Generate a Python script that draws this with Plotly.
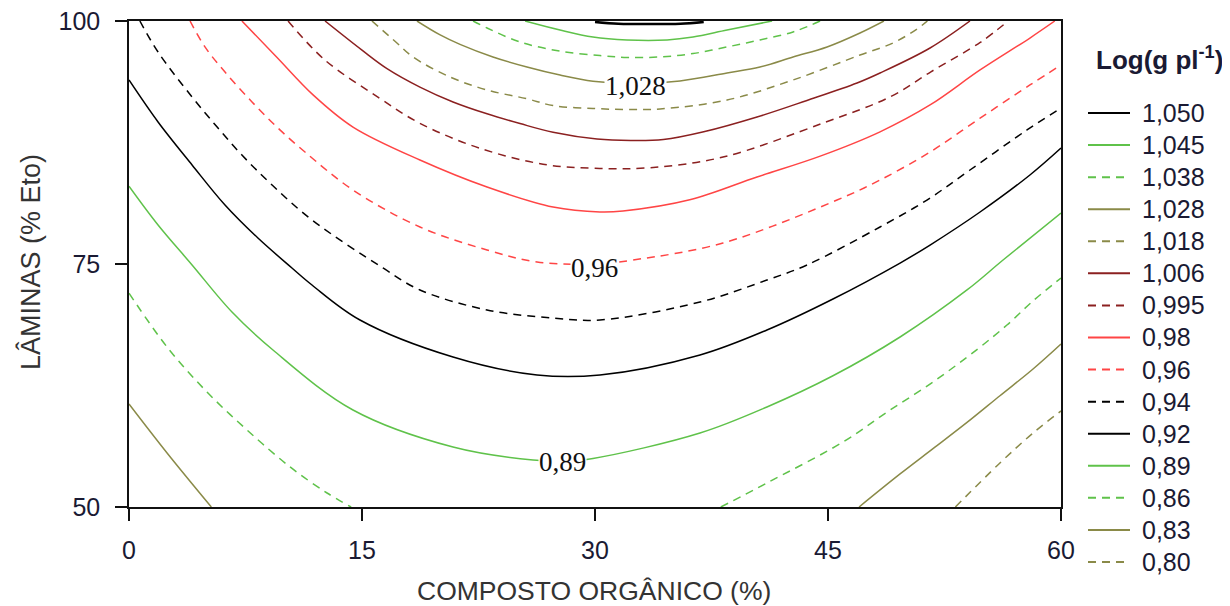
import plotly.graph_objects as go

# ---------------- data ----------------
level_labels = ["1,050", "1,045", "1,038", "1,028", "1,018", "1,006", "0,995",
                "0,98", "0,96", "0,94", "0,92", "0,89", "0,86", "0,83", "0,80"]

c1050_x = [30.0, 31.5, 33.5, 35.5, 37.0]
c1050_y = [99.9, 99.72, 99.68, 99.72, 99.9]

c1045_x = [25.5, 27.75, 29.87, 32.06, 34.64, 36.31, 38.5, 41.4]
c1045_y = [100, 99.07, 98.35, 98.05, 98.05, 98.35, 99.07, 100]

c1038_x = [22.15, 23.05, 25.17, 27.75, 30.32, 32.06, 34.19, 36.31, 38.5, 40.62, 42.75, 44.49]
c1038_y = [100, 99.28, 97.84, 96.9, 96.45, 96.25, 96.3, 96.65, 97.33, 98.05, 98.87, 100]

c1028_x = [18.54, 20.0, 21.31, 23.43, 25.62, 27.75, 29.87, 32.6, 35.47, 38.5, 40.62, 42.75, 44.94, 47.06, 48.6]
c1028_y = [100, 98.6, 97.6, 96.3, 95.27, 94.44, 93.8, 93.55, 93.83, 94.65, 95.27, 96.3, 97.33, 98.77, 100]

c1018_x = [15.64, 17.25, 18.28, 20.67, 23.05, 25.62, 27.3, 29.87, 32.0, 34.19, 38.5, 42.75, 47.06, 49.19, 50.73, 51.4]
c1018_y = [100, 97.74, 96.3, 94.24, 92.9, 92.0, 91.3, 91.0, 90.9, 90.95, 91.87, 93.93, 96.5, 97.74, 99.18, 100]

c1006_x = [12.62, 15.0, 16.61, 18.73, 20.86, 23.05, 25.17, 27.3, 30.13, 32.3, 34.4, 37.0, 40.43, 43.6, 46.87, 48.35, 51.57, 54.14]
c1006_y = [100, 97.0, 95.1, 93.2, 91.67, 90.45, 89.45, 88.55, 87.85, 87.7, 87.8, 88.6, 90.12, 91.8, 93.62, 94.65, 97.22, 100]

c0995_x = [10.24, 12.6, 16.0, 18.7, 22.6, 26.9, 30.0, 33.5, 38.24, 44.68, 49.0, 51.6, 54.8, 56.6]
c0995_y = [100, 96.0, 92.2, 89.5, 86.9, 85.2, 84.85, 84.9, 86.0, 89.5, 92.2, 94.75, 97.8, 100]

c098_x = [7.27, 9.5, 11.85, 14.42, 18.73, 23.05, 27.3, 30.32, 31.8, 36.1, 40.43, 44.5, 48.35, 51.57, 54.79, 58.0, 59.6]
c098_y = [100, 96.3, 92.4, 89.09, 85.7, 82.92, 80.86, 80.35, 80.45, 81.6, 83.95, 86.1, 88.6, 91.36, 94.96, 98.25, 100]

c096_x = [3.93, 4.89, 6.18, 7.92, 9.59, 11.33, 14.42, 18.73, 23.05, 26.27, 30.0, 32.45, 38.24, 45.58, 48.35, 51.57, 54.79, 58.0, 60]
c096_y = [100, 97.33, 94.75, 91.67, 88.99, 86.52, 82.61, 78.81, 76.44, 75.21, 75.0, 75.41, 77.16, 81.58, 83.64, 86.52, 90.0, 93.42, 95.47]

c094_x = [0.7, 1.87, 4.06, 5.73, 7.27, 9.21, 11.78, 16.35, 18.73, 23.05, 27.3, 30.32, 36.76, 41.07, 43.65, 48.35, 51.37, 54.14, 57.81, 60]
c094_y = [100, 96.81, 92.18, 88.99, 86.21, 83.13, 79.53, 74.59, 72.33, 70.27, 69.44, 69.24, 71.09, 73.35, 74.9, 78.81, 81.58, 84.67, 88.79, 91.05]

c092_x = [0, 1.87, 4.06, 6.18, 8.3, 10.49, 11.78, 14.87, 20.86, 26.27, 30.32, 36.76, 41.07, 45.32, 49.64, 51.57, 54.79, 58.0, 60]
c092_y = [93.93, 89.61, 85.19, 81.07, 77.67, 74.59, 72.84, 69.24, 65.43, 63.58, 63.58, 65.64, 68.21, 71.4, 75.1, 76.95, 80.35, 84.16, 86.93]

c089_x = [0, 1.87, 4.06, 6.63, 9.27, 14.42, 20.86, 26.01, 28.0, 29.87, 36.76, 41.07, 45.32, 49.64, 53.95, 56.27, 60]
c089_y = [83.0, 79.01, 74.9, 70.06, 66.15, 59.98, 56.17, 54.84, 54.75, 55.0, 57.61, 60.29, 63.5, 67.49, 72.33, 75.41, 80.25]

c086_left_x = [0, 2.45, 5.02, 7.6, 10.37, 12.75, 14.3]
c086_left_y = [72.0, 66.46, 61.83, 57.92, 54.12, 51.44, 50]
c086_right_x = [38.1, 41.07, 45.97, 48.8, 51.76, 54.59, 56.52, 58.2, 60]
c086_right_y = [50, 52.47, 56.69, 59.77, 62.86, 66.2, 68.72, 71.2, 73.56]

c083_left_x = [0, 2.45, 5.3]
c083_left_y = [60.6, 55.56, 50]
c083_right_x = [47.0, 49.64, 51.76, 53.95, 56.07, 58.2, 60]
c083_right_y = [50, 53.4, 56.0, 58.7, 61.45, 64.2, 66.77]

c080_x = [53.2, 56.07, 58.2, 60]
c080_y = [50, 54.53, 57.61, 59.88]

x_ticks = [0, 15, 30, 45, 60]
y_ticks = [50, 75, 100]

x_title = "COMPOSTO ORGÂNICO (%)"
y_title = "LÂMINAS (% Eto)"
legend_title = "<b>Log(g pl<sup>-1</sup>)</b>"

# curve labels drawn on the plot: (text, x, y)
curve_labels = [("1,028", 32.58, 93.35), ("0,96", 29.94, 74.6), ("0,89", 27.88, 54.65)]

# ---------------- styles ----------------
BLACK = "#000000"
GREEN = "#5fc24a"
OLIVE = "#8a8a48"
DKRED = "#8b2020"
RED = "#ff4545"
DASH = "8px,6px"
TEXT = "#1a1a33"

def join(*segs):
    xs, ys = [], []
    for i, (sx, sy) in enumerate(segs):
        if i:
            xs.append(None)
            ys.append(None)
        xs += sx
        ys += sy
    return xs, ys

curves = [
    (c1050_x, c1050_y, BLACK, "solid", 2.5),
    (c1045_x, c1045_y, GREEN, "solid", 1.5),
    (c1038_x, c1038_y, GREEN, DASH, 1.5),
    (c1028_x, c1028_y, OLIVE, "solid", 1.5),
    (c1018_x, c1018_y, OLIVE, DASH, 1.5),
    (c1006_x, c1006_y, DKRED, "solid", 1.5),
    (c0995_x, c0995_y, DKRED, DASH, 1.5),
    (c098_x, c098_y, RED, "solid", 1.5),
    (c096_x, c096_y, RED, DASH, 1.5),
    (c094_x, c094_y, BLACK, DASH, 1.5),
    (c092_x, c092_y, BLACK, "solid", 1.5),
    (c089_x, c089_y, GREEN, "solid", 1.5),
    (*join((c086_left_x, c086_left_y), (c086_right_x, c086_right_y)), GREEN, DASH, 1.5),
    (*join((c083_left_x, c083_left_y), (c083_right_x, c083_right_y)), OLIVE, "solid", 1.5),
    (c080_x, c080_y, OLIVE, DASH, 1.5),
]

# page geometry (the page body has an 8 px margin)
PLOT_L, PLOT_R, PLOT_T, PLOT_B = 129, 1061, 21, 507
def px_to_paper_x(px):
    return (px - PLOT_L) / (PLOT_R - PLOT_L)
def px_to_paper_y(py):
    return (PLOT_B - py) / (PLOT_B - PLOT_T)

fig = go.Figure()
for lab, (cx, cy, col, dash, w) in zip(level_labels, curves):
    fig.add_trace(go.Scatter(
        x=cx, y=cy, mode="lines", name=lab,
        line=dict(color=col, dash=dash, width=w, shape="spline", smoothing=1.0),
        connectgaps=False, hoverinfo="skip", showlegend=False,
    ))

for txt, lx, ly in curve_labels:
    fig.add_annotation(x=lx, y=ly, text=txt, showarrow=False, xref="x", yref="y",
                       font=dict(family="Liberation Serif", size=27, color="#111"),
                       bgcolor="white", borderpad=0, xanchor="center", yanchor="middle")

# axis titles
fig.add_annotation(x=px_to_paper_x(594), y=px_to_paper_y(591), xref="paper", yref="paper",
                   showarrow=False, text=x_title, xanchor="center", yanchor="middle",
                   font=dict(family="Liberation Sans", size=26.5, color="#333"))
fig.add_annotation(x=px_to_paper_x(30), y=px_to_paper_y(262), xref="paper", yref="paper",
                   showarrow=False, text=y_title, textangle=-90,
                   xanchor="center", yanchor="middle",
                   font=dict(family="Liberation Sans", size=27, color="#333"))

# legend (key lines + texts, spaced as in the reference)
fig.add_annotation(x=px_to_paper_x(1159), y=px_to_paper_y(58), xref="paper", yref="paper",
                   showarrow=False, text=legend_title,
                   font=dict(family="Liberation Sans", size=26, color=TEXT),
                   xanchor="center", yanchor="middle")
for i, (lab, (cx, cy, col, dash, w)) in enumerate(zip(level_labels, curves)):
    py = 113 + 32.07 * i
    fig.add_shape(type="line", xref="paper", yref="paper",
                  x0=px_to_paper_x(1088), x1=px_to_paper_x(1130),
                  y0=px_to_paper_y(py), y1=px_to_paper_y(py),
                  line=dict(color=col, dash=dash, width=2))
    fig.add_annotation(x=px_to_paper_x(1140), y=px_to_paper_y(py), xref="paper", yref="paper",
                       showarrow=False, text=lab, xanchor="left", yanchor="middle",
                       font=dict(family="Liberation Sans", size=25, color=TEXT))

tick_font = dict(family="Liberation Sans", size=25, color=TEXT)
common = dict(ticks="outside", ticklen=12, tickwidth=1.5, tickcolor="#111",
              showline=True, linecolor="#111", linewidth=1.5, mirror=True,
              showgrid=False, zeroline=False, tickfont=tick_font,
              ticklabeloverflow="allow")
fig.update_xaxes(range=[0, 60], tickvals=x_ticks, ticklabelstandoff=8, **common)
fig.update_yaxes(range=[50, 100], tickvals=y_ticks, ticklabelstandoff=10, **common)

fig.update_layout(
    width=1222, height=598,
    margin=dict(l=121, r=169, t=13, b=99, autoexpand=False),
    paper_bgcolor="white", plot_bgcolor="white",
    showlegend=False,
)

fig.write_html("out.html")
